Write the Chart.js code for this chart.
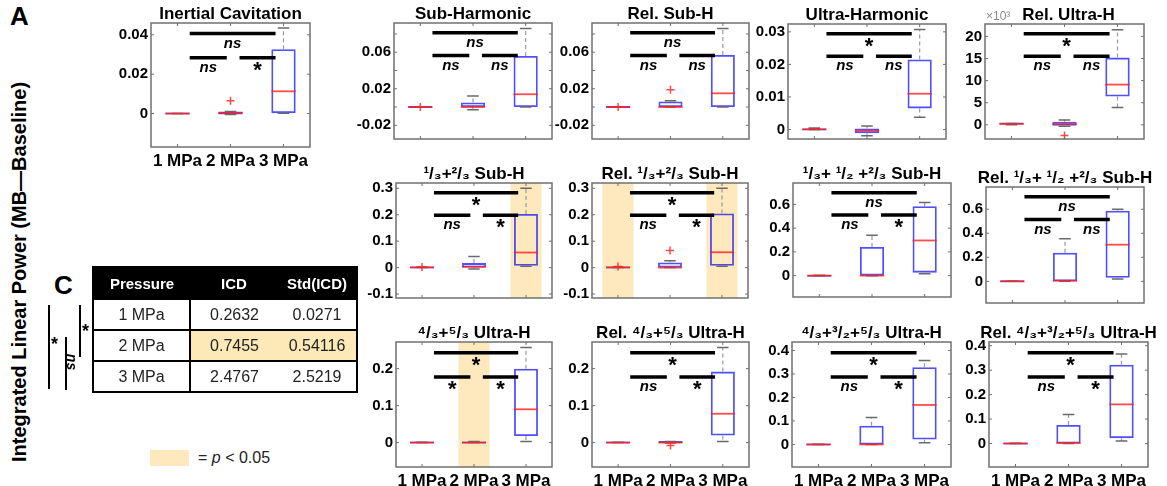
<!DOCTYPE html>
<html>
<head>
<meta charset="utf-8">
<script src="https://cdn.jsdelivr.net/npm/chart.js@4.4.1/dist/chart.umd.min.js"></script>
<style>
  body { margin: 0; background: #fff; font-family: "Liberation Sans", Arial, sans-serif; }
  #fig { position: relative; width: 1167px; height: 486px; overflow: hidden; }
  .panel { position: absolute; }
  .abs { position: absolute; white-space: nowrap; }
  table.icd { position: absolute; left: 92px; top: 266px; border-collapse: collapse; border: 2px solid #000; }
  table.icd th { background: #000; color: #fff; font-weight: bold; font-size: 15px; height: 30px; padding: 0; }
  table.icd td { font-size: 16px; color: #222; height: 29px; padding: 0; text-align: center; border-top: 2px solid #000; }
  table.icd td:first-child { border-right: 2px solid #000; }
  table.icd td.sig { background: #fde9b8; }
</style>
</head>
<body>
<div id="fig"></div>
<script>
// categories
const pressures = ['1 MPa', '2 MPa', '3 MPa'];

const titles = [
  'Inertial Cavitation', 'Sub-Harmonic', 'Rel. Sub-H', 'Ultra-Harmonic', 'Rel. Ultra-H',
  '¹/₃+²/₃ Sub-H', 'Rel. ¹/₃+²/₃ Sub-H', '¹/₃+ ¹/₂ +²/₃ Sub-H', 'Rel. ¹/₃+ ¹/₂ +²/₃ Sub-H',
  '⁴/₃+⁵/₃ Ultra-H', 'Rel. ⁴/₃+⁵/₃ Ultra-H', '⁴/₃+³/₂+⁵/₃ Ultra-H', 'Rel. ⁴/₃+³/₂+⁵/₃ Ultra-H'
];

// box plot stats, one row per panel: [1 MPa, 2 MPa, 3 MPa]
const q1 = [
  [0, -0.0005, 0.0002], [0, 0, 0], [0, 0, 0], [0, -0.0011, 0.0065], [0.1, -0.2, 6.4],
  [0, 0, 0.007], [0, 0, 0.007], [0, 0, 0.025], [0, 0, 0.03],
  [0, 0, 0.018], [0, -0.001, 0.019], [0, 0, 0.021], [0, 0, 0.022]
];
const medians = [
  [0, 0.0003, 0.0113], [0, 0, 0.014], [0, 0, 0.015], [0.0001, -0.0003, 0.011], [0.2, 0.2, 9.1],
  [0.001, 0.003, 0.057], [0.001, 0, 0.058], [0, 0, 0.296], [0, 0.005, 0.305],
  [0, 0, 0.09], [0, 0, 0.078], [0, 0, 0.168], [0, 0.002, 0.16]
];
const q3 = [
  [0, 0.001, 0.0327], [0, 0.005, 0.056], [0, 0.006, 0.057], [0.0003, 0.0003, 0.0215], [0.3, 0.7, 15.2],
  [0.002, 0.017, 0.203], [0.002, 0.019, 0.205], [0.003, 0.241, 0.584], [0.003, 0.239, 0.587],
  [0.001, 0.002, 0.2], [0.001, 0.003, 0.192], [0.001, 0.08, 0.329], [0.001, 0.076, 0.322]
];
const whiskLo = [
  [0, -0.0005, 0.0002], [0, -0.003, 0], [0, 0, 0], [0, -0.0019, 0.0038], [0, -0.3, 3.9],
  [0, -0.005, 0.005], [0, 0, 0.005], [0, 0, 0.015], [0, 0, 0.02],
  [0, 0, 0.003], [0, -0.001, 0.003], [0, 0, 0.007], [0, 0, 0.01]
];
const whiskHi = [
  [0, 0.001, 0.0435], [0, 0.012, 0.086], [0, 0.007, 0.086], [0.0005, 0.0011, 0.0307], [0.3, 1.1, 21.5],
  [0.002, 0.042, 0.30], [0.002, 0.026, 0.30], [0.003, 0.34, 0.615], [0.003, 0.355, 0.60],
  [0.001, 0.003, 0.257], [0.001, 0.003, 0.257], [0.001, 0.115, 0.357], [0.001, 0.119, 0.366]
];
// outliers as [category index, value]
const outliers = [
  [[1, 0.0065]], [[0, 0]], [[0, 0], [1, 0.019]], [], [[1, -2.4]],
  [[0, 0.002]], [[0, 0.004], [1, 0.065]], [], [],
  [], [[1, -0.008]], [], []
];

// axes
const yRange = [
  [-0.017, 0.046], [-0.035, 0.092], [-0.035, 0.092], [-0.0029, 0.0324], [-3.2, 22.8],
  [-0.115, 0.32], [-0.115, 0.32], [-0.18, 0.78], [-0.18, 0.785],
  [-0.066, 0.272], [-0.066, 0.272], [-0.096, 0.436], [-0.096, 0.415]
];
const yTicks = [
  [0, 0.02, 0.04], [-0.02, 0.02, 0.06], [-0.02, 0.02, 0.06], [0, 0.01, 0.02, 0.03], [0, 5, 10, 15, 20],
  [-0.1, 0, 0.1, 0.2, 0.3], [-0.1, 0, 0.1, 0.2, 0.3], [0, 0.2, 0.4, 0.6], [0, 0.2, 0.4, 0.6],
  [0, 0.1, 0.2], [0, 0.1, 0.2], [0, 0.1, 0.2, 0.3, 0.4], [0, 0.1, 0.2, 0.3, 0.4]
];
// unlabelled tick marks between labels
const yMinorTicks = [[], [0, 0.04, 0.08], [0, 0.04, 0.08], [], [], [], [], [], [], [], [], [], []];

// significance: [1 vs 3, 1 vs 2, 2 vs 3]
const sigLabels = [
  ['ns', 'ns', '*'], ['ns', 'ns', 'ns'], ['ns', 'ns', 'ns'], ['*', 'ns', 'ns'], ['*', 'ns', 'ns'],
  ['*', 'ns', '*'], ['*', 'ns', '*'], ['ns', 'ns', '*'], ['ns', 'ns', 'ns'],
  ['*', '*', '*'], ['*', 'ns', '*'], ['*', 'ns', '*'], ['*', 'ns', '*']
];
// shaded groups (p < 0.05)
const highlight = [[], [], [], [], [], [2], [0, 2], [], [], [1], [], [], []];

// table C
const tablePressure = ['1 MPa', '2 MPa', '3 MPa'];
const tableICD = [0.2632, 0.7455, 2.4767];
const tableStd = [0.0271, 0.54116, 2.5219];

// plot area of each panel: left, top, right, bottom (px)
const areas = [
  [151, 23, 310, 147], [394, 23, 552, 148], [592, 23, 749, 148], [788, 24, 946, 148], [985, 24, 1144, 148],
  [396, 183, 552, 307], [592, 183, 748, 307], [793, 183, 951, 306], [986, 187, 1144, 312],
  [396, 342, 552, 467], [592, 342, 749, 467], [792, 342, 951, 467], [989, 342, 1148, 467]
];
const withXLabels = [0, 9, 10, 11, 12];

const FONT = '"Liberation Sans", Arial, sans-serif';
const BAND = '#fde9bd';
const fig = document.getElementById('fig');

function boxExtras(i) {
  return {
    id: 'boxExtras',
    beforeDatasetsDraw(chart) {
      const {ctx, chartArea: a, scales: {x}} = chart;
      ctx.save();
      ctx.fillStyle = BAND;
      highlight[i].forEach(c => {
        const x0 = x.getPixelForValue(c - 0.3), x1 = x.getPixelForValue(c + 0.3);
        ctx.fillRect(x0, a.top, x1 - x0, a.bottom - a.top);
      });
      ctx.restore();
    },
    afterDatasetsDraw(chart) {
      const {ctx, chartArea: a, scales: {x, y}} = chart;
      ctx.save();
      for (let c = 0; c < 3; c++) {
        const xc = x.getPixelForValue(c);
        const capW = x.getPixelForValue(c + 0.11) - xc;
        const boxW = x.getPixelForValue(c + 0.23) - xc;
        // whiskers
        ctx.strokeStyle = '#9a9a9a';
        ctx.lineWidth = 1.2;
        ctx.setLineDash([4, 3]);
        ctx.beginPath();
        ctx.moveTo(xc, y.getPixelForValue(q3[i][c]));
        ctx.lineTo(xc, y.getPixelForValue(whiskHi[i][c]));
        ctx.moveTo(xc, y.getPixelForValue(q1[i][c]));
        ctx.lineTo(xc, y.getPixelForValue(whiskLo[i][c]));
        ctx.stroke();
        ctx.setLineDash([]);
        ctx.strokeStyle = '#6a6a6a';
        ctx.lineWidth = 1.5;
        ctx.beginPath();
        [whiskHi[i][c], whiskLo[i][c]].forEach(v => {
          const py = y.getPixelForValue(v);
          ctx.moveTo(xc - capW, py);
          ctx.lineTo(xc + capW, py);
        });
        ctx.stroke();
        // median
        ctx.strokeStyle = 'rgba(255,30,30,0.8)';
        ctx.lineWidth = 1.8;
        const pm = y.getPixelForValue(medians[i][c]);
        ctx.beginPath();
        ctx.moveTo(xc - boxW, pm);
        ctx.lineTo(xc + boxW, pm);
        ctx.stroke();
      }
      // outliers
      ctx.strokeStyle = 'rgba(255,40,40,0.85)';
      ctx.lineWidth = 1.5;
      outliers[i].forEach(([c, v]) => {
        const px = x.getPixelForValue(c), py = y.getPixelForValue(v);
        ctx.beginPath();
        ctx.moveTo(px - 4, py); ctx.lineTo(px + 4, py);
        ctx.moveTo(px, py - 4); ctx.lineTo(px, py + 4);
        ctx.stroke();
      });
      // significance bars
      const h = a.bottom - a.top;
      const bars = [[0.23, 1.85, 0.085], [0.23, 0.93, 0.28], [1.17, 1.85, 0.28]];
      ctx.strokeStyle = '#000';
      ctx.fillStyle = '#000';
      ctx.lineWidth = 3.5;
      ctx.textAlign = 'center';
      ctx.textBaseline = 'middle';
      bars.forEach(([c0, c1, f], k) => {
        const x0 = x.getPixelForValue(c0), x1 = x.getPixelForValue(c1);
        const py = a.top + f * h;
        ctx.beginPath();
        ctx.moveTo(x0, py);
        ctx.lineTo(x1, py);
        ctx.stroke();
        const lab = sigLabels[i][k];
        if (lab === 'ns') {
          ctx.font = 'italic bold 15px ' + FONT;
          ctx.fillText(lab, (x0 + x1) / 2, py + 10);
        } else {
          ctx.font = 'bold 22px ' + FONT;
          ctx.fillText(lab, (x0 + x1) / 2, py + 13);
        }
      });
      ctx.restore();
    },
    afterDraw(chart) {
      const {ctx, chartArea: a, scales: {x, y}} = chart;
      ctx.save();
      ctx.strokeStyle = '#707070';
      ctx.lineWidth = 1.5;
      ctx.strokeRect(a.left, a.top, a.right - a.left, a.bottom - a.top);
      ctx.lineWidth = 1;
      ctx.beginPath();
      y.ticks.map(t => t.value).concat(yMinorTicks[i]).forEach(v => {
        const py = y.getPixelForValue(v);
        ctx.moveTo(a.left, py); ctx.lineTo(a.left + 3, py);
        ctx.moveTo(a.right, py); ctx.lineTo(a.right - 3, py);
      });
      for (let c = 0; c < 3; c++) {
        const px = x.getPixelForValue(c);
        ctx.moveTo(px, a.top); ctx.lineTo(px, a.top + 3);
        ctx.moveTo(px, a.bottom); ctx.lineTo(px, a.bottom - 3);
      }
      ctx.stroke();
      // panel title, centred on the plot area
      ctx.fillStyle = '#000';
      ctx.font = 'bold 17px ' + FONT;
      ctx.textAlign = 'center';
      ctx.textBaseline = 'alphabetic';
      ctx.fillText(titles[i], (a.left + a.right) / 2 + (i === 4 ? 4 : 0), a.top - 4);
      if (i === 4) {
        ctx.fillStyle = '#8a8a8a';
        ctx.font = '12px ' + FONT;
        ctx.textAlign = 'left';
        ctx.fillText('×10³', a.left + 1, a.top - 4);
      }
      ctx.restore();
    }
  };
}

titles.forEach((title, i) => {
  const [L, T, R, B] = areas[i];
  const showX = withXLabels.includes(i);
  const padL = 50, padT = 23, padR = 20, padB = showX ? 24 : 3;
  const div = document.createElement('div');
  div.className = 'panel';
  div.style.left = (L - padL) + 'px';
  div.style.top = (T - padT) + 'px';
  const canvas = document.createElement('canvas');
  canvas.width = R - L + padL + padR;
  canvas.height = B - T + padT + padB;
  div.appendChild(canvas);
  fig.appendChild(div);

  new Chart(canvas, {
    type: 'bar',
    data: {
      labels: pressures,
      datasets: [{
        data: pressures.map((p, c) => [q1[i][c], q3[i][c]]),
        backgroundColor: 'rgba(0,0,0,0)',
        borderColor: 'rgba(20,20,255,0.75)',
        borderWidth: 1.8,
        borderSkipped: false,
        minBarLength: 2,
        barPercentage: 0.46,
        categoryPercentage: 1
      }]
    },
    options: {
      responsive: false,
      animation: false,
      devicePixelRatio: 1,
      layout: { padding: { top: padT, right: padR, bottom: showX ? 0 : padB, left: 0 } },
      plugins: {
        legend: { display: false },
        tooltip: { enabled: false },
        title: { display: false }
      },
      scales: {
        x: {
          grid: { display: false, drawTicks: false },
          border: { display: false },
          ticks: {
            display: showX, color: '#000', padding: 4, maxRotation: 0, autoSkip: false,
            font: { family: FONT, size: 17, weight: 'bold' }
          },
          afterFit: s => { s.height = showX ? padB : 0; }
        },
        y: {
          min: yRange[i][0],
          max: yRange[i][1],
          grid: { display: false, drawTicks: false },
          border: { display: false },
          ticks: {
            color: '#000', padding: 3,
            font: { family: FONT, size: 15, weight: 'bold' },
            callback: v => String(Math.round(v * 1e6) / 1e6)
          },
          afterBuildTicks: s => { s.ticks = yTicks[i].map(v => ({ value: v })); },
          afterFit: s => { s.width = padL; }
        }
      }
    },
    plugins: [boxExtras(i)]
  });
});

// left side: labels, table C, brackets, legend
function addText(html, css) {
  const d = document.createElement('div');
  d.className = 'abs';
  d.innerHTML = html;
  Object.assign(d.style, css);
  fig.appendChild(d);
  return d;
}
addText('A', { left: '10px', top: '1px', font: 'bold 26px ' + FONT });
addText('C', { left: '54px', top: '270px', font: 'bold 26px ' + FONT });
addText('Integrated Linear Power (MB—Baseline)', {
  left: '19px', top: '272px', font: 'bold 20px ' + FONT,
  transform: 'translate(-50%, -50%) rotate(-90deg)'
});

const table = document.createElement('table');
table.className = 'icd';
let html = '<tr><th style="width:96px">Pressure</th><th style="width:88px">ICD</th><th style="width:78px">Std(ICD)</th></tr>';
tablePressure.forEach((p, r) => {
  const cls = r === 1 ? ' class="sig"' : '';
  html += '<tr><td>' + p + '</td><td' + cls + '>' + tableICD[r] + '</td><td' + cls + '>' + tableStd[r] + '</td></tr>';
});
table.innerHTML = html;
fig.appendChild(table);

function vline(x, y0, y1) {
  addText('', { left: x + 'px', top: y0 + 'px', width: '2px', height: (y1 - y0) + 'px', background: '#000' });
}
vline(48, 305, 389);
vline(65, 337, 390);
vline(79, 305, 357);
addText('*', { left: '51px', top: '334px', font: 'bold 18px ' + FONT });
addText('*', { left: '82px', top: '321px', font: 'bold 18px ' + FONT });
addText('ns', { left: '64px', top: '354px', font: 'italic bold 14px ' + FONT, transform: 'rotate(90deg)' });

addText('', { left: '150px', top: '450px', width: '39px', height: '16px', background: BAND });
addText('= <i>p</i> &lt; 0.05', { left: '198px', top: '449px', font: '16px ' + FONT, color: '#222' });
</script>
</body>
</html>
